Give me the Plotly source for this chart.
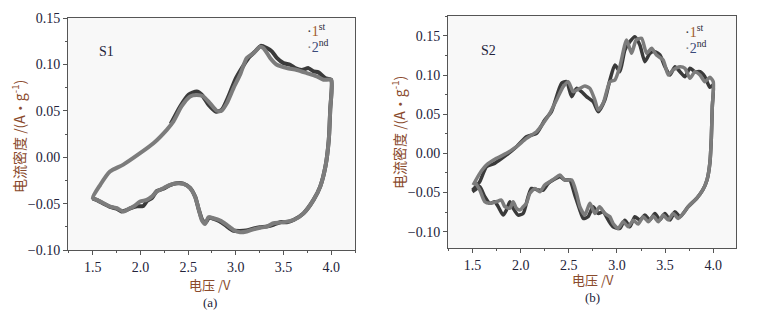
import plotly.graph_objects as go

# ---------------- Panel (a) S1 ----------------
# 1st cycle (dark)
a1_v = [2.318, 2.416, 2.503, 2.59, 2.643, 2.713, 2.794, 2.853, 2.923, 2.993, 3.063, 3.133, 3.203, 3.262,
        3.325, 3.378, 3.43, 3.50, 3.57, 3.622, 3.692, 3.762, 3.815, 3.867, 3.937, 4.0,
        3.99, 3.975, 3.94, 3.885, 3.815, 3.71, 3.605,
        3.535, 3.465, 3.40, 3.33, 3.25, 3.18, 3.11, 3.04, 2.97, 2.90, 2.83, 2.77, 2.72, 2.685, 2.65, 2.61,
        2.575, 2.52, 2.45, 2.38, 2.31, 2.24, 2.17, 2.12, 2.07, 2.03, 1.96, 1.90, 1.84, 1.80, 1.75, 1.68,
        1.62, 1.55, 1.5]
a1_i = [0.036, 0.0547, 0.0673, 0.0709, 0.0673, 0.0565, 0.049, 0.051, 0.0655, 0.0834, 0.096, 0.107, 0.114, 0.120,
        0.1176, 0.114, 0.107, 0.1014, 0.0996, 0.096, 0.094, 0.096, 0.0925, 0.0914, 0.0852, 0.0834,
        0.051, 0.0187, -0.010, -0.0317, -0.046, -0.0605, -0.0677,
        -0.0700, -0.0700, -0.0725, -0.0745, -0.0755, -0.077, -0.079, -0.0795, -0.0790, -0.0740, -0.0690,
        -0.0665, -0.0650, -0.0705, -0.0680, -0.0560, -0.0430, -0.0330, -0.0285, -0.0280, -0.0300, -0.0340,
        -0.0365, -0.0440, -0.0470, -0.0525, -0.0530, -0.0550, -0.0575, -0.0585, -0.0555, -0.0535, -0.0505,
        -0.0465, -0.0445]
# 2nd cycle (grey)
a2_v = [1.5, 1.577, 1.68, 1.82, 1.996, 2.136, 2.276, 2.346, 2.43, 2.52, 2.59, 2.66, 2.73, 2.80, 2.85, 2.905,
        2.976, 3.045, 3.115, 3.185, 3.255, 3.29, 3.36, 3.43, 3.535, 3.64, 3.745, 3.85, 3.92, 4.0,
        3.99, 3.975, 3.94, 3.885, 3.815, 3.71, 3.605,
        3.535, 3.465, 3.395, 3.325, 3.255, 3.185, 3.115, 3.045, 2.976, 2.906, 2.836, 2.766, 2.713, 2.678,
        2.643, 2.608, 2.573, 2.521, 2.451, 2.381, 2.311, 2.241, 2.171, 2.119, 2.066, 1.996, 1.927, 1.857,
        1.822, 1.752, 1.682, 1.612, 1.542, 1.5]
a2_i = [-0.044, -0.030, -0.0155, -0.008, 0.0043, 0.015, 0.0295, 0.0385, 0.0547, 0.0655, 0.067, 0.0655, 0.058,
        0.050, 0.050, 0.058, 0.0745, 0.089, 0.107, 0.112, 0.119, 0.1176, 0.107, 0.0996, 0.096, 0.094, 0.0906,
        0.087, 0.0834, 0.0834,
        0.051, 0.0187, -0.010, -0.0317, -0.046, -0.0605, -0.0677,
        -0.0694, -0.0705, -0.0712, -0.0748, -0.076, -0.0777, -0.080, -0.0809, -0.0784, -0.073, -0.0683,
        -0.0658, -0.0647, -0.072, -0.0677, -0.055, -0.0425, -0.0334, -0.0288, -0.028, -0.0298, -0.0334,
        -0.037, -0.0425, -0.046, -0.0478, -0.0532, -0.0568, -0.0586, -0.055, -0.0532, -0.0496, -0.046, -0.044]

# ---------------- Panel (b) S2 ----------------
b1_v = [1.5, 1.576, 1.645, 1.73, 1.853, 1.957, 2.06, 2.165, 2.25, 2.32, 2.425, 2.477, 2.53, 2.58, 2.632,
        2.684, 2.753, 2.805, 2.874, 2.927, 2.979, 3.03, 3.082, 3.134, 3.186, 3.238, 3.29, 3.342, 3.394,
        3.446, 3.498, 3.55, 3.602, 3.654, 3.706, 3.758, 3.81, 3.862, 3.913, 3.965, 4.0,
        3.99, 3.98, 3.965, 3.935, 3.89, 3.83, 3.74,
        3.654, 3.602, 3.55, 3.498, 3.446, 3.394, 3.342, 3.29, 3.238, 3.186, 3.134, 3.082, 3.03, 2.96, 2.91,
        2.857, 2.805, 2.753, 2.70, 2.65, 2.615, 2.563, 2.51, 2.46, 2.407, 2.338, 2.286, 2.234, 2.182, 2.113,
        2.078, 2.027, 1.974, 1.922, 1.888, 1.853, 1.818, 1.767, 1.732, 1.68, 1.628, 1.576, 1.524, 1.5]
b1_i = [-0.047, -0.036, -0.017, -0.0127, -0.002, 0.0086, 0.0213, 0.0256, 0.0426, 0.0533, 0.0895, 0.0916,
        0.0725, 0.0831, 0.0789, 0.0725, 0.0661, 0.0533, 0.0682, 0.0938, 0.1129, 0.1044, 0.1321, 0.1428,
        0.1491, 0.1385, 0.1172, 0.1279, 0.130, 0.1257, 0.1108, 0.1002, 0.1108, 0.1044, 0.098, 0.1087,
        0.1044, 0.1044, 0.098, 0.0844, 0.0874,
        0.060, 0.020, -0.012, -0.034, -0.047, -0.057, -0.068,
        -0.0809, -0.0745, -0.085, -0.0766, -0.085, -0.0766, -0.085, -0.0788, -0.085, -0.0809, -0.0937,
        -0.0852, -0.0958, -0.0937, -0.0852, -0.0745, -0.0766, -0.0681, -0.0809, -0.083, -0.0724, -0.0532,
        -0.034, -0.034, -0.0298, -0.034, -0.0383, -0.0468, -0.0468, -0.0447, -0.055, -0.0766, -0.0788,
        -0.070, -0.0617, -0.0723, -0.0788, -0.068, -0.0617, -0.0638, -0.0553, -0.0426, -0.0468, -0.049]
b2_v = [1.507, 1.576, 1.645, 1.749, 1.853, 1.957, 2.06, 2.165, 2.234, 2.303, 2.373, 2.442, 2.494, 2.546,
        2.615, 2.667, 2.719, 2.771, 2.805, 2.857, 2.927, 2.979, 3.03, 3.10, 3.152, 3.20, 3.256, 3.308, 3.36,
        3.41, 3.48, 3.533, 3.584, 3.654, 3.706, 3.758, 3.81, 3.862, 3.913, 3.965, 4.0,
        3.99, 3.98, 3.965, 3.935, 3.89, 3.83, 3.74,
        3.688, 3.636, 3.584, 3.533, 3.48, 3.43, 3.377, 3.325, 3.273, 3.22, 3.17, 3.117, 3.065, 3.013, 2.96,
        2.927, 2.874, 2.82, 2.771, 2.719, 2.667, 2.615, 2.58, 2.53, 2.46, 2.407, 2.355, 2.303, 2.25, 2.20,
        2.148, 2.096, 2.06, 2.027, 1.992, 1.957, 1.922, 1.888, 1.836, 1.80, 1.749, 1.68, 1.628, 1.576, 1.524]
b2_i = [-0.0404, -0.0255, -0.0149, -0.0063, 0.0001, 0.0086, 0.0192, 0.0277, 0.0384, 0.0512, 0.0682, 0.0853,
        0.0916, 0.0789, 0.0831, 0.0861, 0.0831, 0.0682, 0.0554, 0.064, 0.0916, 0.0938, 0.1108, 0.145, 0.1279,
        0.145, 0.147, 0.1279, 0.1342, 0.1257, 0.1193, 0.1002, 0.1066, 0.1108, 0.1087, 0.0959, 0.1044, 0.1002,
        0.0916, 0.0972, 0.0916,
        0.060, 0.020, -0.012, -0.034, -0.047, -0.057, -0.068,
        -0.0766, -0.083, -0.0766, -0.085, -0.0788, -0.0873, -0.080, -0.0873, -0.0809, -0.0903, -0.0852,
        -0.0937, -0.0873, -0.0958, -0.0894, -0.0809, -0.0766, -0.0681, -0.0766, -0.0638, -0.0788, -0.0681,
        -0.051, -0.034, -0.034, -0.0276, -0.0319, -0.036, -0.0404, -0.049, -0.0447, -0.051, -0.0638, -0.068,
        -0.0723, -0.070, -0.0617, -0.070, -0.068, -0.0596, -0.0617, -0.0638, -0.0617, -0.0468, -0.036]

x_ticks = [1.5, 2.0, 2.5, 3.0, 3.5, 4.0]
panel_labels = ["S1", "S2"]
sub_labels = ["(a)", "(b)"]
x_title = "电压 /V"
y_title = "电流密度 /(A·g<sup>-1</sup>)"

DARK = "#3a3a3a"
GREY = "#7c7c7c"
TICKC = "#23233a"
BROWN = "#8a4a2c"
SERIF = "Liberation Serif, Times New Roman, serif"
CJK = "Noto Sans CJK SC"

fig = go.Figure()
line_kw = dict(mode="lines", line_shape="spline", hoverinfo="skip", showlegend=False)
fig.add_trace(go.Scatter(x=a1_v, y=a1_i, line=dict(color=DARK, width=4, smoothing=0.6), xaxis="x", yaxis="y", **line_kw))
fig.add_trace(go.Scatter(x=a2_v, y=a2_i, line=dict(color=GREY, width=4, smoothing=0.6), xaxis="x", yaxis="y", **line_kw))
fig.add_trace(go.Scatter(x=b1_v, y=b1_i, line=dict(color=DARK, width=3.5, smoothing=0.6), xaxis="x2", yaxis="y2", **line_kw))
fig.add_trace(go.Scatter(x=b2_v, y=b2_i, line=dict(color=GREY, width=3.5, smoothing=0.6), xaxis="x2", yaxis="y2", **line_kw))

W, H = 760, 312
def dom_x(l, r):
    return [l / W, r / W]
def dom_y(t, b):
    return [1 - b / H, 1 - t / H]

axis_common = dict(showline=True, linecolor="#555", linewidth=1, mirror=True, ticks="outside", ticklen=4,
                   tickcolor="#555", showgrid=False, zeroline=False, automargin=False,
                   tickfont=dict(family=SERIF, size=14, color=TICKC))

fig.update_layout(
    width=W, height=H, margin=dict(l=0, r=0, t=0, b=0, pad=0),
    paper_bgcolor="white", plot_bgcolor="#f8f8f8",
    xaxis=dict(domain=dom_x(68, 355), range=[1.24, 4.25], tickvals=x_ticks, tickformat=".1f", anchor="y",
               minor=dict(ticks="outside", ticklen=2, dtick=0.25, tick0=1.25, tickcolor="#555"), **axis_common),
    yaxis=dict(domain=dom_y(18, 250), range=[-0.10, 0.15], dtick=0.05, tick0=0, tickformat=".2f", anchor="x",
               minor=dict(ticks="outside", ticklen=2, dtick=0.025, tick0=0, tickcolor="#555"), **axis_common),
    xaxis2=dict(domain=dom_x(448, 736), range=[1.246, 4.236], tickvals=x_ticks, tickformat=".1f", anchor="y2",
                minor=dict(ticks="outside", ticklen=2, dtick=0.25, tick0=1.25, tickcolor="#555"), **axis_common),
    yaxis2=dict(domain=dom_y(16, 248), range=[-0.1208, 0.1755], dtick=0.05, tick0=0, tickformat=".2f", anchor="x2",
                minor=dict(ticks="outside", ticklen=2, dtick=0.025, tick0=0, tickcolor="#555"), **axis_common),
)

ann = []
# panel labels S1 / S2
ann.append(dict(x=1.54, y=0.114, xref="x", yref="y", text=panel_labels[0], showarrow=False, xanchor="left",
                yanchor="middle", font=dict(family=SERIF, size=14, color=TICKC)))
ann.append(dict(x=1.57, y=0.132, xref="x2", yref="y2", text=panel_labels[1], showarrow=False, xanchor="left",
                yanchor="middle", font=dict(family=SERIF, size=14, color=TICKC)))
# axis titles
for xc, yc, xt, yt, st, stx, sty in [(210, 284, 18, 137, sub_labels[0], 210, 302),
                                     (593, 279, 398, 133, sub_labels[1], 592, 297)]:
    ann.append(dict(x=xc / W, y=1 - yc / H, xref="paper", yref="paper", text=x_title, showarrow=False,
                    xanchor="center", yanchor="middle", font=dict(family=CJK, size=13, color=BROWN)))
    ann.append(dict(x=stx / W, y=1 - sty / H, xref="paper", yref="paper", text=st, showarrow=False,
                    xanchor="center", yanchor="middle", font=dict(family=SERIF, size=13, color=TICKC)))
    ann.append(dict(x=xt / W, y=1 - yt / H, xref="paper", yref="paper", text=y_title, showarrow=False,
                    xanchor="center", yanchor="middle", textangle=-90,
                    font=dict(family=CJK, size=14, color=BROWN)))
# legends
legends = [(305, 30, 46), (683, 31, 47)]
for lx, y1, y2 in legends:
    for yy, num, sup, col, dotc in [(y1, "1", "st", "#a0582a", DARK), (y2, "2", "nd", "#3a4a7a", GREY)]:
        ann.append(dict(x=lx / W, y=1 - yy / H, xref="paper", yref="paper", showarrow=False, xanchor="left",
                        yanchor="middle",
                        text='<span style="color:%s">·</span><span style="color:%s">%s</span><sup>%s</sup>' % (dotc, col, num, sup),
                        font=dict(family=SERIF, size=14, color="#2a2a3a")))
fig.update_layout(annotations=ann)

fig.write_html("out.html", config={"displayModeBar": False},
               post_script="document.body.style.margin='0px';document.body.style.overflow='hidden';")
